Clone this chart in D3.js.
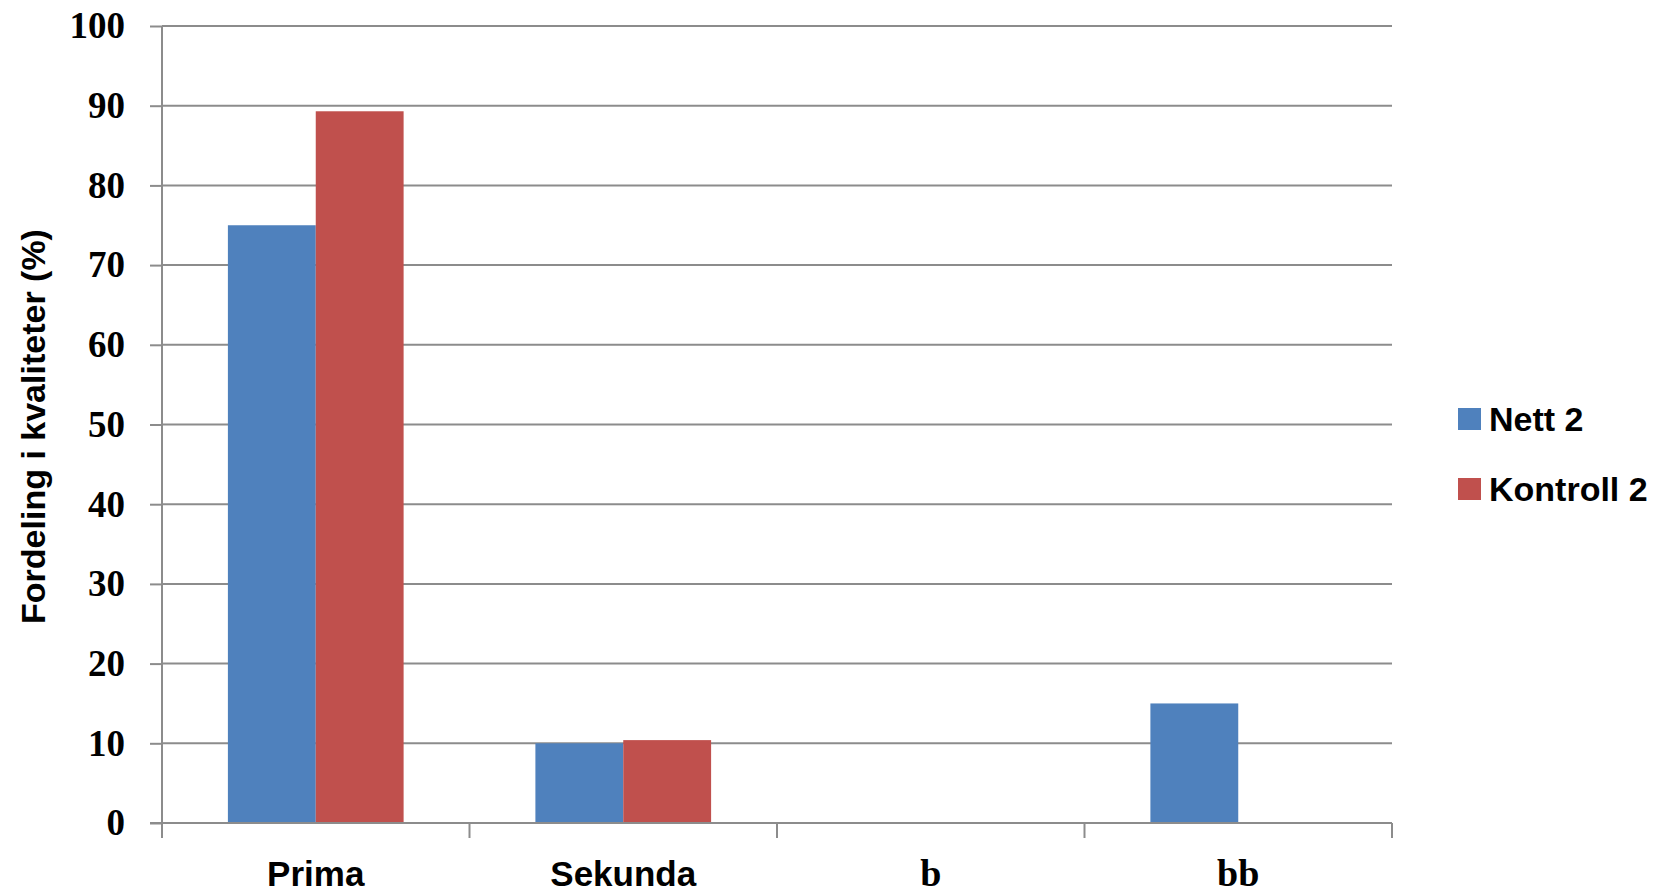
<!DOCTYPE html>
<html>
<head>
<meta charset="utf-8">
<script src="https://cdn.jsdelivr.net/npm/d3@7"></script>
<style>
    body { margin: 0; background: #ffffff; }
    svg { display: block; }
</style>
</head>
<body>
<div id="chart"></div>
<script>
// data
var categories = ["Prima", "Sekunda", "b", "bb"];
var seriesNames = ["Nett 2", "Kontroll 2"];
var nett2 = [75, 10, 0, 15];
var kontroll2 = [89.3, 10.4, 0, 0];
var yTicks = [0, 10, 20, 30, 40, 50, 60, 70, 80, 90, 100];
var yTitle = "Fordeling i kvaliteter (%)";

var colors = ["#4f81bd", "#c0504d"];
var serifLabels = ["b", "bb"];

var width = 1667, height = 894;
var plotLeft = 162, plotRight = 1392, plotTop = 26, plotBottom = 823;

var svg = d3.select("#chart")
    .append("svg")
    .attr("width", width)
    .attr("height", height);

var x = d3.scaleBand()
    .domain(categories)
    .range([plotLeft, plotRight])
    .paddingInner(0)
    .paddingOuter(0);

// excel style gap width 150%: bar = band / 3.5
var bw = x.bandwidth() / 3.5;
var x1 = d3.scaleBand()
    .domain(seriesNames)
    .range([0.75 * bw, 2.75 * bw]);

var y = d3.scaleLinear()
    .domain([0, 100])
    .range([plotBottom, plotTop]);

// gridlines
svg.append("g")
    .selectAll("line")
    .data(yTicks.filter(function (d) { return d > 0; }))
    .enter()
    .append("line")
    .attr("x1", plotLeft)
    .attr("x2", plotRight)
    .attr("y1", function (d) { return y(d); })
    .attr("y2", function (d) { return y(d); })
    .attr("stroke", "#8c8c8c")
    .attr("stroke-width", 2);

// bars
var rows = seriesNames.map(function (name, i) {
    var vals = i == 0 ? nett2 : kontroll2;
    return categories.map(function (c, j) {
        return {series: name, cat: c, value: vals[j], idx: i};
    });
});

svg.append("g")
    .selectAll("g")
    .data(rows)
    .enter()
    .append("g")
    .attr("fill", function (d, i) { return colors[i]; })
    .selectAll("rect")
    .data(function (d) { return d.filter(function (e) { return e.value > 0; }); })
    .enter()
    .append("rect")
    .attr("x", function (d) { return x(d.cat) + x1(d.series); })
    .attr("y", function (d) { return y(d.value); })
    .attr("width", x1.bandwidth())
    .attr("height", function (d) { return y(0) - y(d.value); });

// y axis
var yAxis = d3.axisLeft(y)
    .tickValues(yTicks)
    .tickSize(12)
    .tickPadding(25)
    .tickFormat(d3.format("d"));

var yg = svg.append("g")
    .attr("transform", "translate(" + plotLeft + ",0)")
    .call(yAxis);
yg.select(".domain").remove();
yg.append("line")
    .attr("x1", 0).attr("x2", 0)
    .attr("y1", plotTop).attr("y2", plotBottom + 15)
    .attr("stroke", "#8c8c8c")
    .attr("stroke-width", 2);
yg.selectAll(".tick line")
    .attr("stroke", "#8c8c8c")
    .attr("stroke-width", 2);
yg.selectAll(".tick text")
    .attr("fill", "#000")
    .attr("font-family", "'Liberation Serif', 'DejaVu Serif', serif")
    .attr("font-weight", "bold")
    .attr("font-size", "37px");

// x axis
var xAxis = d3.axisBottom(x)
    .tickSize(0)
    .tickPadding(0);

var xg = svg.append("g")
    .attr("transform", "translate(0," + plotBottom + ")")
    .call(xAxis);
xg.select(".domain").remove();
xg.append("line")
    .attr("x1", plotLeft - 12).attr("x2", plotRight)
    .attr("y1", 0).attr("y2", 0)
    .attr("stroke", "#8c8c8c")
    .attr("stroke-width", 2);
xg.selectAll(".sep")
    .data(categories.concat(["end"]))
    .enter()
    .append("line")
    .attr("class", "sep")
    .attr("x1", function (d, i) { return i < categories.length ? x(d) : plotRight; })
    .attr("x2", function (d, i) { return i < categories.length ? x(d) : plotRight; })
    .attr("y1", 0)
    .attr("y2", 15)
    .attr("stroke", "#8c8c8c")
    .attr("stroke-width", 2);
xg.selectAll(".tick text")
    .attr("y", 63)
    .attr("dy", 0)
    .attr("fill", "#000")
    .attr("font-family", function (d) {
        return serifLabels.indexOf(d) >= 0 ? "'Liberation Serif', serif" : "'Liberation Sans', Arial, sans-serif";
    })
    .attr("font-weight", "bold")
    .attr("font-size", function (d) { return serifLabels.indexOf(d) >= 0 ? "38px" : "35px"; });

// y title
svg.append("text")
    .attr("transform", "translate(45," + ((plotTop + plotBottom) / 2 + 2) + ") rotate(-90)")
    .attr("text-anchor", "middle")
    .attr("font-family", "'Liberation Sans', Arial, sans-serif")
    .attr("font-weight", "bold")
    .attr("font-size", "34px")
    .attr("fill", "#000")
    .text(yTitle);

// legend
var legend = svg.append("g")
    .attr("transform", "translate(1458,419)");
var items = legend.selectAll("g")
    .data(seriesNames)
    .enter()
    .append("g")
    .attr("transform", function (d, i) { return "translate(0," + (i * 70) + ")"; });
items.append("rect")
    .attr("x", 0)
    .attr("y", -11)
    .attr("width", 23)
    .attr("height", 22)
    .attr("fill", function (d, i) { return colors[i]; });
items.append("text")
    .attr("x", 31)
    .attr("y", 0)
    .attr("dy", "0.36em")
    .attr("font-family", "'Liberation Sans', Arial, sans-serif")
    .attr("font-weight", "bold")
    .attr("font-size", "34px")
    .attr("fill", "#000")
    .text(function (d) { return d; });
</script>
</body>
</html>
